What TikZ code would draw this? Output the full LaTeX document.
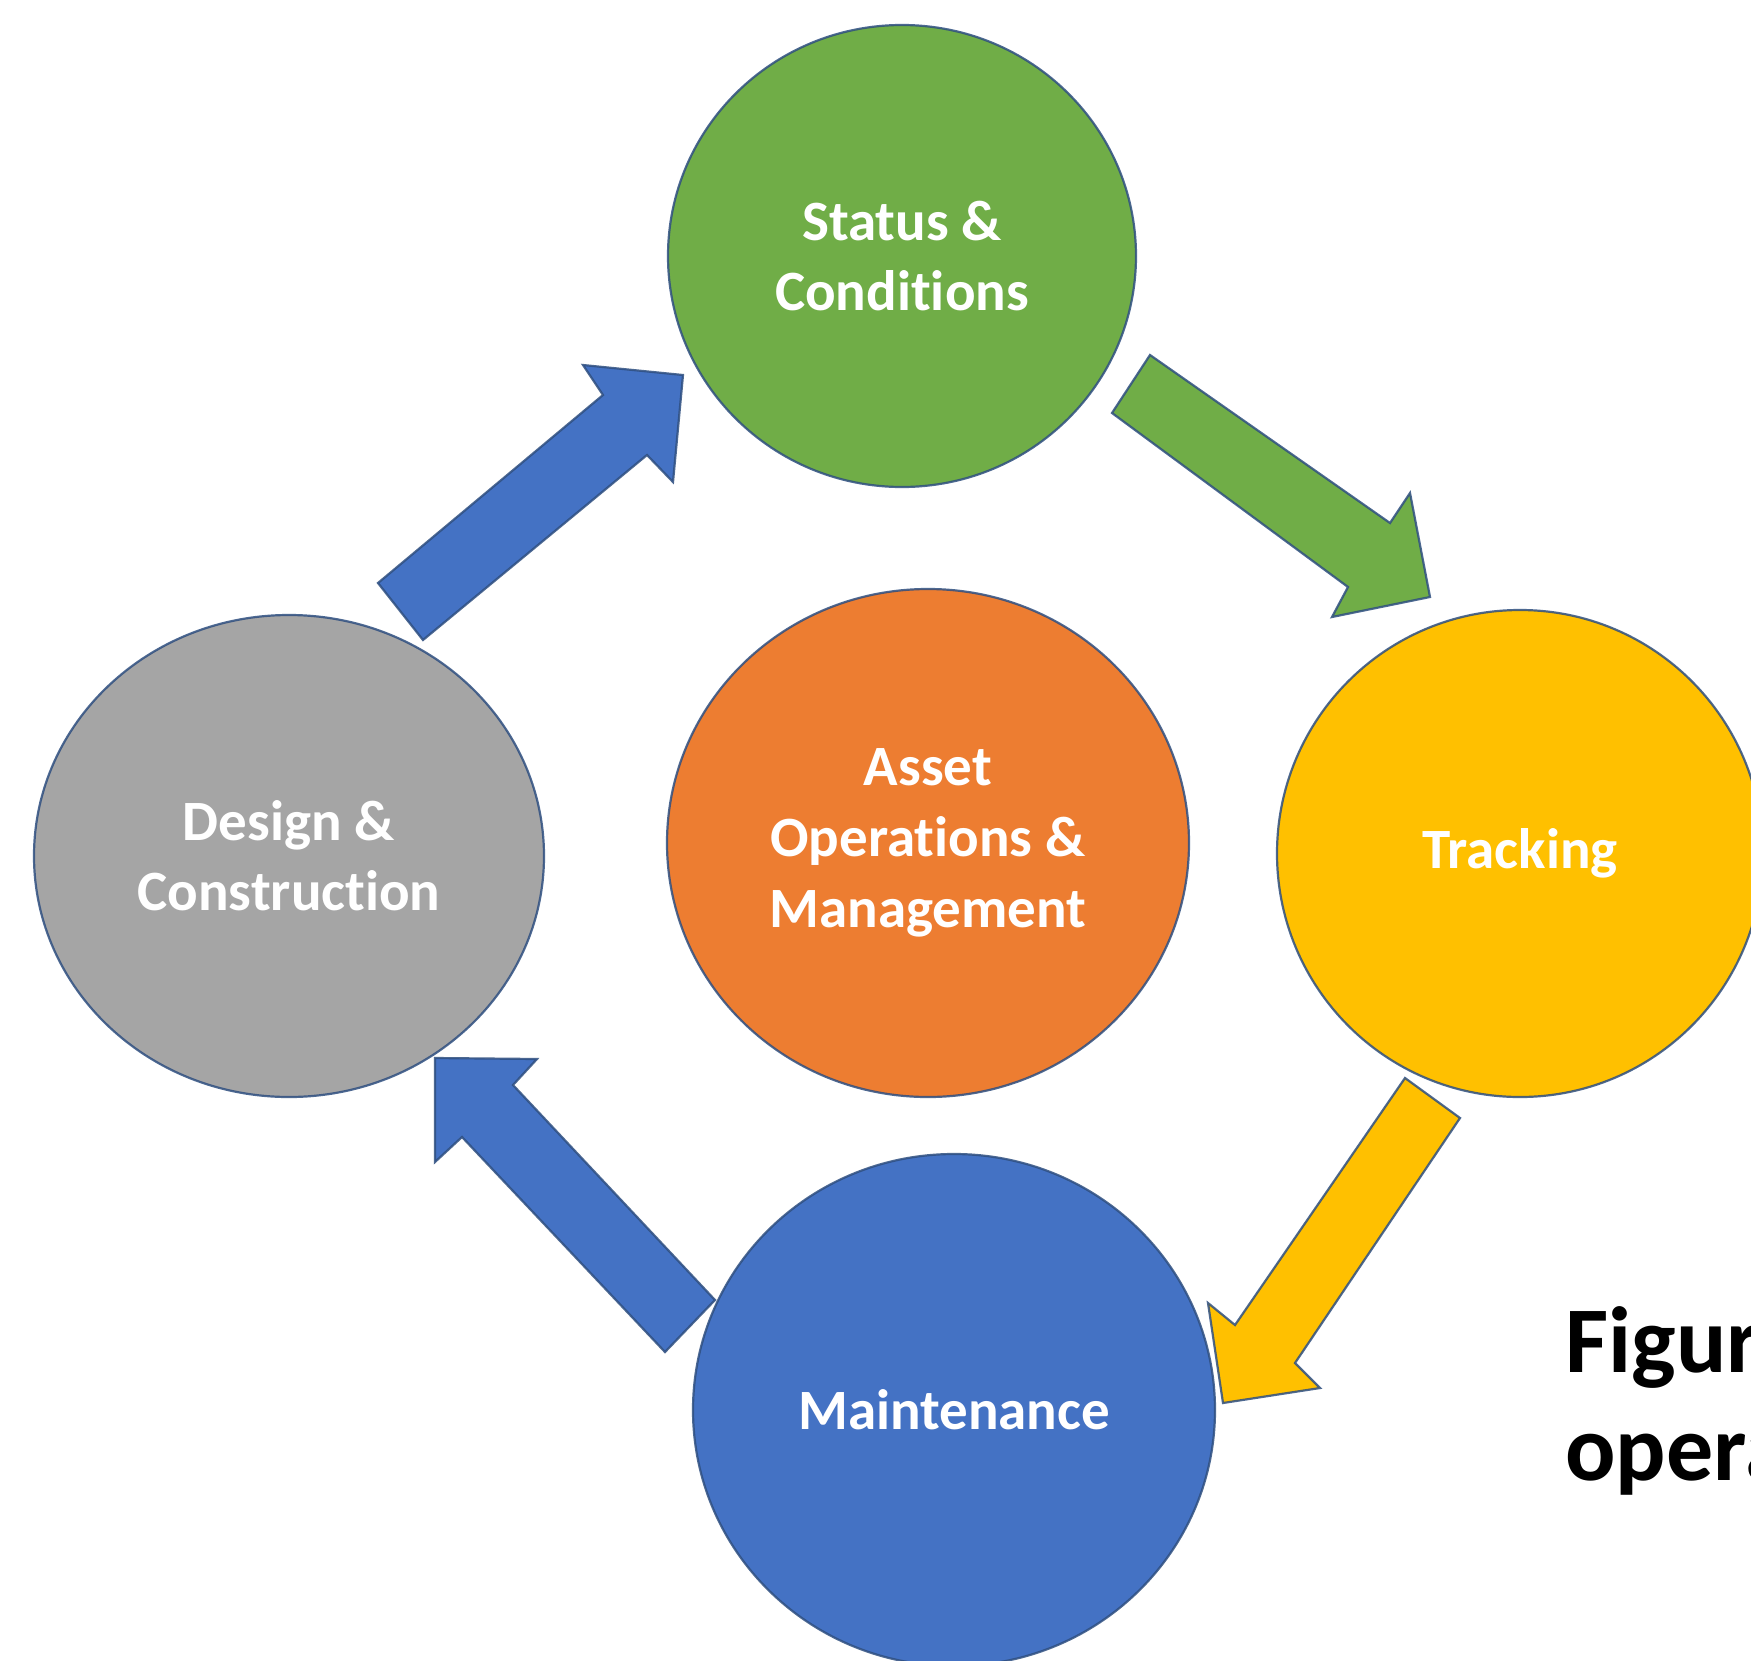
\documentclass[tikz,border=0pt]{standalone}
\usepackage{fontspec}
\setmainfont{Carlito}[Ligatures=NoCommon]
\usetikzlibrary{shapes.geometric}

\definecolor{cgreen}{HTML}{70AD47}
\definecolor{corange}{HTML}{ED7D31}
\definecolor{cgray}{HTML}{A5A5A5}
\definecolor{cyellow}{HTML}{FFC000}
\definecolor{cblue}{HTML}{4472C4}
\definecolor{edge}{HTML}{2F4F80}

\tikzset{
  stage/.style={ellipse, draw=edge, draw opacity=0.85, line width=1.1pt,
    text=white, align=center, inner sep=0pt,
    font=\bfseries\fontsize{28.5}{35}\selectfont},
  blockarrow/.style={draw=edge, draw opacity=0.85, line width=1.1pt, line join=miter},
  caption/.style={anchor=base west, inner sep=0pt, text=black,
    font=\bfseries\fontsize{47}{54}\selectfont}
}

\begin{document}
\begin{tikzpicture}[x=0.5pt,y=-0.5pt]
\path[use as bounding box, fill=white] (0,0) rectangle (1751,1660);
\begin{scope}
\clip (0,0) rectangle (1751,1660);

% block arrows of the cycle
\draw[blockarrow, fill=cblue]
  (378,583) -- (603,395) -- (583,365) -- (683,375) -- (673,482) -- (647,455) -- (423,640) -- cycle;
\draw[blockarrow, fill=cgreen]
  (1150,355) -- (1390,523) -- (1410,493) -- (1430,597) -- (1332,617) -- (1348,587) -- (1112,413) -- cycle;
\draw[blockarrow, fill=cyellow]
  (1405,1078) -- (1460,1118) -- (1295,1363) -- (1320,1388) -- (1223,1403) -- (1208,1303) -- (1235,1325) -- cycle;
\draw[blockarrow, fill=cblue]
  (435,1058) -- (537,1059) -- (513,1085) -- (715,1300) -- (665,1352) -- (462,1137) -- (435,1162) -- cycle;

% stages
\node[stage, fill=cgreen, minimum width=234pt, minimum height=231pt]
  (status) at (902,256) {Status \&\\Conditions};
\node[stage, fill=cgray, minimum width=255pt, minimum height=241pt]
  (design) at (289,856) {Design \&\\Construction};
\node[stage, fill=corange, minimum width=261pt, minimum height=254pt,
  font=\bfseries\fontsize{28.5}{35.5}\selectfont]
  (asset) at (928,843) {Asset\\Operations \&\\Management};
\node[stage, fill=cyellow, minimum width=243pt, minimum height=243.5pt]
  (tracking) at (1520,853.5) {Tracking};
\node[stage, fill=cblue, minimum width=261pt, minimum height=256pt]
  (maint) at (954,1410) {Maintenance};

% caption running off the right edge
\node[caption] (cap1) at (1565,1372) {Figur};
\node[caption] (cap2) at (1565,1480) {opera};
\end{scope}
\end{tikzpicture}
\end{document}
